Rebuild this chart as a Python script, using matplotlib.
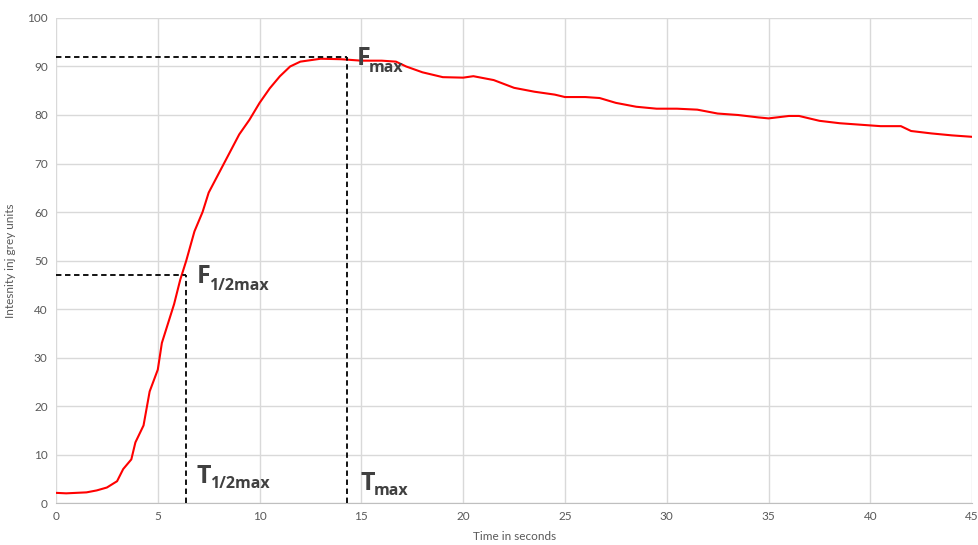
import matplotlib
matplotlib.use("Agg")
import matplotlib.pyplot as plt

# Data
time_s = [0, 0.5, 1.0, 1.5, 2.0, 2.5, 3.0, 3.3, 3.7, 3.9, 4.3, 4.6, 5.0, 5.2, 5.5, 5.8,
          6.1, 6.4, 6.8, 7.2, 7.5, 8.0, 8.5, 9.0, 9.5, 10.0, 10.5, 11.0, 11.5, 12.0,
          12.5, 13.0, 14.0, 15.0, 16.0, 16.7, 17.2, 18.0, 19.0, 20.0, 20.5, 21.5,
          22.5, 23.5, 24.5, 25.0, 26.0, 26.7, 27.5, 28.5, 29.5, 30.5, 31.5, 32.5,
          33.5, 34.5, 35.0, 36.0, 36.5, 37.5, 38.5, 39.5, 40.5, 41.5, 42.0, 43.0,
          44.0, 45.0]
intensity = [2.1, 2.0, 2.1, 2.2, 2.6, 3.2, 4.5, 7.0, 9.0, 12.5, 16.0, 23.0, 27.5, 33.0,
             37.0, 41.0, 46.0, 50.0, 56.0, 60.0, 64.0, 68.0, 72.0, 76.0, 79.0, 82.5,
             85.5, 88.0, 90.0, 91.0, 91.3, 91.6, 91.5, 91.2, 91.2, 91.0, 90.0, 88.8,
             87.8, 87.7, 88.0, 87.2, 85.6, 84.8, 84.2, 83.7, 83.7, 83.5, 82.5, 81.7,
             81.3, 81.3, 81.1, 80.3, 80.0, 79.5, 79.3, 79.8, 79.8, 78.8, 78.3, 78.0,
             77.7, 77.7, 76.7, 76.2, 75.8, 75.5]

f_max = 92
t_max = 14.3
f_half = 47
t_half = 6.4

x_ticks = [0, 5, 10, 15, 20, 25, 30, 35, 40, 45]
y_ticks = [0, 10, 20, 30, 40, 50, 60, 70, 80, 90, 100]

plt.rcParams['font.family'] = ['Lato', 'DejaVu Sans']

fig = plt.figure(figsize=(9.79, 5.45), dpi=100)
ax = fig.add_axes([0.0572, 0.077, 0.9358, 0.89])

ax.plot(time_s, intensity, color='#ff0000', lw=1.5, zorder=3)

dash = dict(color='black', lw=1.3, ls=(0, (3, 2)), zorder=4)
ax.plot([0, t_max], [f_max, f_max], **dash)
ax.plot([t_max, t_max], [0, f_max], **dash)
ax.plot([0, t_half], [f_half, f_half], **dash)
ax.plot([t_half, t_half], [0, f_half], **dash)

tc = '#404040'
def label(x, y, main, sub, dy=-1.4):
    t = ax.text(x, y, main, fontsize=18, fontweight='bold', color=tc, zorder=5,
                ha='left', va='baseline', family=['Open Sans', 'DejaVu Sans'])
    fig.canvas.draw()
    bb = t.get_window_extent()
    x1 = ax.transData.inverted().transform((bb.x1, 0))[0]
    ax.text(x1 - 0.12, y + dy, sub, fontsize=11.5, fontweight='bold', color=tc, zorder=5,
            ha='left', va='baseline', family=['Open Sans', 'DejaVu Sans'])

label(14.75, 90.3, 'F', 'max')
label(6.9, 45.4, 'F', '1/2max')
label(6.9, 4.1, 'T', '1/2max', dy=-1.0)
label(14.95, 2.7, 'T', 'max', dy=-1.0)

ax.set_xlim(0, 45)
ax.set_ylim(0, 100)
ax.set_xticks(x_ticks)
ax.set_yticks(y_ticks)
ax.grid(True, color='#d9d9d9', lw=1.0, zorder=0)
ax.set_axisbelow(True)
for s in ['top', 'right', 'left']:
    ax.spines[s].set_visible(False)
ax.spines['bottom'].set_color('#bfbfbf')
ax.tick_params(length=0, labelsize=8.5, labelcolor='#595959', pad=6)
ax.set_xlabel('Time in seconds', fontsize=8.5, color='#595959', labelpad=6)
ax.set_ylabel('Intesnity inj grey units', fontsize=8.5, color='#595959', labelpad=8)

fig.savefig('out.png', dpi=100)
